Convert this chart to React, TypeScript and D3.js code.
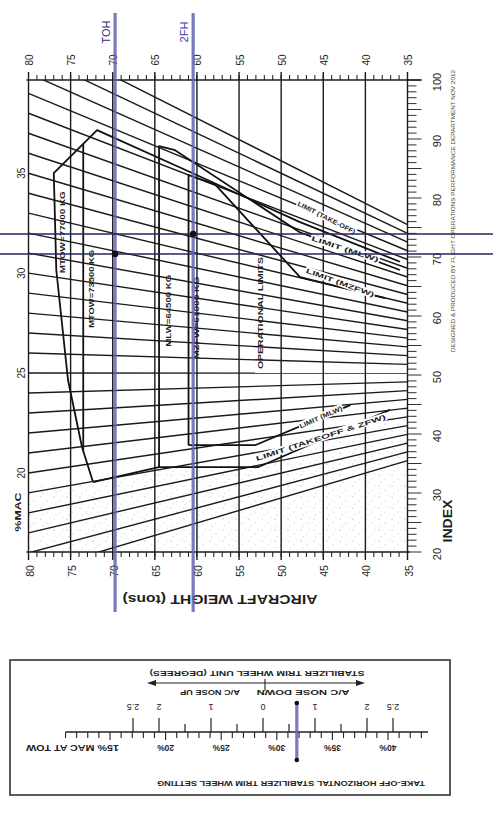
import React from "react";
import * as d3 from "d3";

// ---------- DATA ----------
const weightTicks = [80, 75, 70, 65, 60, 55, 50, 45, 40, 35]; // tons
const indexTicks = [100, 90, 80, 70, 60, 50, 40, 30, 20];
const macLabelValues = [35, 30, 25, 20];
const macLineValues = [15, 16, 17, 18, 19, 20, 21, 22, 23, 24, 25, 26, 27, 28, 29, 30, 31, 32, 33, 34, 35, 36, 37, 38, 39, 40, 41, 42];

// balance-chart constants: every %MAC line passes through (weight 0, pivotIndex)
const pivotIndex = 50.3;
const refWeight = 80;
const macRefDomain = [20, 35];
const macRefIndex = [33.4, 84.2]; // index of the 20% and 35% lines at 80 t

// envelopes [weight t, index]
const towEnvelope: [number, number][] = [
  [72.34, 31.86], [73.65, 37.8], [75.31, 49.15], [76.7, 67.8], [77.0, 84.2],
  [71.86, 91.5], [60.82, 84.4], [47.76, 75.9], [35.9, 69.2],
];
const towLower: [number, number][] = [[72.34, 31.86], [64.5, 34.4], [52.7, 34.4], [37.1, 44.1]];
const mtow2Line: [number, number][] = [[73.5, 89.17], [73.5, 37.1]];
const mlwLine: [number, number][] = [[64.5, 34.4], [64.5, 88.8], [62.6, 88.1], [47.8, 74.2], [35.9, 67.8]];
const mzfwLine: [number, number][] = [[61.0, 38.1], [61.0, 83.9], [57.85, 82.3], [47.76, 66.6], [37.66, 63.05]];
const mzfwLower: [number, number][] = [[61.0, 38.1], [53.1, 38.1], [41.8, 44.9]];
const stippleArea: [number, number][] = [
  [80, 20], [80, 31], [72.34, 31.86], [64.5, 34.4], [52.7, 34.4], [37.1, 44.1], [35, 44.6], [35, 20],
];

const envelopeTexts = [
  { text: "MTOW=77000 KG", w: 76.0, i: 74.2, len: 82 },
  { text: "MTOW=73500 KG", w: 72.55, i: 64.6, len: 78 },
  { text: "MLW=64500 KG", w: 63.4, i: 60.9, len: 72 },
  { text: "MZFW=61000 KG", w: 60.05, i: 59.7, len: 82 },
  { text: "OPERATIONAL LIMITS", w: 52.5, i: 60.5, len: 112 },
];
const limitTexts = [
  { text: "LIMIT (TAKE-OFF)", w: 44.6, i: 76.7, angle: 27, len: 64 },
  { text: "LIMIT (MLW)", w: 42.4, i: 71.4, angle: 18, len: 70 },
  { text: "LIMIT (MZFW)", w: 43.0, i: 65.7, angle: 20, len: 72 },
  { text: "LIMIT (MLW)", w: 45.3, i: 42.9, angle: -24, len: 46 },
  { text: "LIMIT (TAKEOFF & ZFW)", w: 45.3, i: 39.4, angle: -18, len: 136 },
];

const takeoffPoints = [
  { name: "TOH", weight: 69.72, index: 70.5, color: "#2c2c6e" },
  { name: "2FH", weight: 60.45, index: 73.9, color: "#3b3bb0" },
];
const takeoffMac = 31.8;

const trimMacLabels = [15, 20, 25, 30, 35, 40];
const trimUnitLabels = [-2.5, -2, -1, 0, 1, 2, 2.5];

const FONT = "'Liberation Sans', Arial, Helvetica, sans-serif";

function RText(p: any) {
  const { x, y, rot = -90, size = 10, anchor = "middle", weight, fill = "#1e1e1e", len, children } = p;
  return (
    <text
      transform={`translate(${x},${y}) rotate(${rot})`}
      textAnchor={anchor}
      dominantBaseline="central"
      fontSize={size}
      fontWeight={weight}
      fill={fill}
      textLength={len}
      lengthAdjust={len ? "spacingAndGlyphs" : undefined}
    >
      {children}
    </text>
  );
}

export default function App() {
  const x = d3.scaleLinear().domain([80, 35]).range([28.5, 407.5]);
  const y = d3.scaleLinear().domain([20, 100]).range([552, 80]);
  const idxRef = d3.scaleLinear().domain(macRefDomain).range(macRefIndex);
  const macIndex = (w: number, m: number) => pivotIndex + (w / refWeight) * (idxRef(m) - pivotIndex);
  const line = d3.line<[number, number]>().x((d) => x(d[0])).y((d) => y(d[1]));

  const x0 = x(80), x1 = x(35), yTop = y(100), yBot = y(20);

  const macT = d3.scaleLinear().domain([15, 40]).range([110, 388]);
  const trimT = d3.scaleLinear().domain([-2.5, 2.5]).range([133, 393]);
  const trimY = 732;

  const minorW = d3.range(35, 81);
  const minorI = d3.range(20, 101);
  const minorMac = d3.range(11, 44);
  const minorTrim = d3.range(-2.5, 2.51, 0.5);

  return (
    <svg width={493} height={821} style={{ position: "absolute", left: 0, top: 0, background: "#fff" }} fontFamily={FONT}>
      <defs>
        <clipPath id="frame">
          <rect x={x0} y={yTop} width={x1 - x0} height={yBot - yTop} />
        </clipPath>
        <pattern id="stip" width={13} height={11} patternUnits="userSpaceOnUse">
          <circle cx={2} cy={2} r={0.6} fill="#8a8a8a" />
          <circle cx={8} cy={6} r={0.5} fill="#9a9a9a" />
          <circle cx={4} cy={9} r={0.5} fill="#a0a0a0" />
          <circle cx={11} cy={1} r={0.45} fill="#9a9a9a" />
        </pattern>
      </defs>

      {/* stippled area */}
      <path d={line(stippleArea) + "Z"} fill="url(#stip)" opacity={0.8} />

      {/* %MAC lines */}
      <g clipPath="url(#frame)" stroke="#1a1a1a" strokeWidth={1.4}>
        {macLineValues.map((m) => (
          <line key={m} x1={x(80)} y1={y(macIndex(80, m))} x2={x(35)} y2={y(macIndex(35, m))} />
        ))}
      </g>

      {/* weight grid */}
      <g stroke="#1a1a1a" strokeWidth={1.4}>
        {weightTicks.map((w) => (
          <line key={w} x1={x(w)} x2={x(w)} y1={yTop - 8} y2={yBot + 8} />
        ))}
        {minorW.map((w) => (
          <g key={"m" + w}>
            <line x1={x(w)} x2={x(w)} y1={yTop - 5} y2={yTop} strokeWidth={1} />
            <line x1={x(w)} x2={x(w)} y1={yBot} y2={yBot + 5} strokeWidth={1} />
          </g>
        ))}
        <line x1={x0 - 2} x2={x1 + 14} y1={yTop} y2={yTop} strokeWidth={1.5} />
        <line x1={x0 - 2} x2={x1 + 2} y1={yBot} y2={yBot} strokeWidth={1.5} />
        {minorI.map((i) => (
          <line key={"i" + i} x1={x1} x2={x1 + (i % 5 === 0 ? 14 : 9)} y1={y(i)} y2={y(i)} strokeWidth={0.9} />
        ))}
      </g>

      {/* envelopes */}
      <g fill="none" stroke="#111" strokeWidth={1.8} strokeLinejoin="round">
        <path d={line(towEnvelope)!} />
        <path d={line(towLower)!} />
        <path d={line(mtow2Line)!} />
        <path d={line(mlwLine)!} />
        <path d={line(mzfwLine)!} />
        <path d={line(mzfwLower)!} />
      </g>

      {envelopeTexts.map((t) => (
        <RText key={t.text} x={x(t.w)} y={y(t.i)} size={8} len={t.len} weight="bold">
          {t.text}
        </RText>
      ))}
      {limitTexts.map((t, k) => (
        <g key={k}>
          <rect
            transform={`translate(${x(t.w)},${y(t.i)}) rotate(${t.angle})`}
            x={-t.len / 2 - 1}
            y={-4}
            width={t.len + 2}
            height={8}
            fill="#fff"
          />
          <RText x={x(t.w)} y={y(t.i)} rot={t.angle} size={6.5} len={t.len} weight="bold">
            {t.text}
          </RText>
        </g>
      ))}

      {/* axis labels */}
      {weightTicks.map((w) => (
        <g key={"wl" + w}>
          <RText x={x(w) + 1} y={60} size={10}>{w}</RText>
          <RText x={x(w) + 1} y={571} size={10.5}>{w}</RText>
        </g>
      ))}
      {indexTicks.map((i) => (
        <RText key={"il" + i} x={437} y={y(i) + 2} size={11}>{i}</RText>
      ))}
      {macLabelValues.map((m) => (
        <RText key={"ml" + m} x={21} y={y(idxRef(m))} size={10}>{m}</RText>
      ))}
      <RText x={448} y={521} size={12} weight="bold" len={43}>INDEX</RText>
      <RText x={18} y={512} size={9} weight="bold" len={39}>%MAC</RText>
      <RText x={220} y={599} rot={180} size={12} weight="bold" len={195}>AIRCRAFT WEIGHT (tons)</RText>
      <RText x={453} y={211} size={5.5} len={282} fill="#444">
        DESIGNED &amp; PRODUCED BY FLIGHT OPERATIONS PERFORMANCE DEPARTMENT NOV 2012
      </RText>

      {/* take-off reference lines */}
      {takeoffPoints.map((p) => (
        <g key={p.name}>
          <line x1={0} x2={493} y1={y(p.index)} y2={y(p.index)} stroke="#26265e" strokeWidth={1.4} />
          <line x1={x(p.weight)} x2={x(p.weight)} y1={13} y2={612} stroke="#6464b0" strokeWidth={3.2} opacity={0.85} />
          <circle cx={x(p.weight)} cy={y(p.index)} r={3.3} fill="#111" />
          <RText x={x(p.weight) - 9} y={32} size={11} fill={p.color}>{p.name}</RText>
        </g>
      ))}

      {/* trim wheel setting box (printed upside down) */}
      <rect x={10} y={660} width={440} height={135} fill="none" stroke="#333" strokeWidth={1.6} />
      <line x1={macT(11)} x2={macT(43.6)} y1={trimY} y2={trimY} stroke="#222" strokeWidth={1.3} />
      {minorMac.map((m) => (
        <line key={"tm" + m} x1={macT(m)} x2={macT(m)} y1={trimY} y2={trimY + (m % 5 === 0 ? 8 : 6)} stroke="#222" strokeWidth={1.1} />
      ))}
      {minorTrim.map((u) => {
        const major = Number.isInteger(u) || Math.abs(u) === 2.5;
        return <line key={"tt" + u} x1={trimT(u)} x2={trimT(u)} y1={trimY - (major ? 14 : 8)} y2={trimY} stroke="#222" strokeWidth={1.2} />;
      })}
      {trimUnitLabels.map((u) => (
        <RText key={"tu" + u} x={trimT(u)} y={707} rot={180} size={9}>{String(Math.abs(u))}</RText>
      ))}
      {trimMacLabels.map((m) =>
        m === 15 ? (
          <RText key="t15" x={macT(15) + 9} y={748} rot={180} size={8.5} anchor="start" len={93} weight="bold">
            15% MAC AT TOW
          </RText>
        ) : (
          <RText key={"tl" + m} x={macT(m)} y={748} rot={180} size={8.5} weight="bold">{m + "%"}</RText>
        )
      )}
      <RText x={291} y={783} rot={180} size={7.5} len={268} weight="bold">TAKE-OFF HORIZONTAL STABILIZER TRIM WHEEL SETTING</RText>
      <RText x={257} y={673} rot={180} size={7.5} len={215} weight="bold">STABILIZER TRIM WHEEL UNIT (DEGREES)</RText>
      <line x1={154} x2={358} y1={683} y2={683} stroke="#222" strokeWidth={1.1} />
      <path d="M147,683 L156,680 L156,686 Z M365,683 L356,680 L356,686 Z" fill="#222" />
      <line x1={265} x2={265} y1={679} y2={691} stroke="#222" strokeWidth={1.1} />
      <RText x={303} y={692} rot={180} size={7} len={93} weight="bold">A/C NOSE DOWN</RText>
      <RText x={210} y={692} rot={180} size={7} len={60} weight="bold">A/C NOSE UP</RText>
      <line x1={macT(takeoffMac)} x2={macT(takeoffMac)} y1={703} y2={760} stroke="#6464b0" strokeWidth={3.2} opacity={0.85} />
      <circle cx={macT(takeoffMac)} cy={703} r={2.3} fill="#111" />
      <circle cx={macT(takeoffMac)} cy={760} r={2.3} fill="#111" />
    </svg>
  );
}
